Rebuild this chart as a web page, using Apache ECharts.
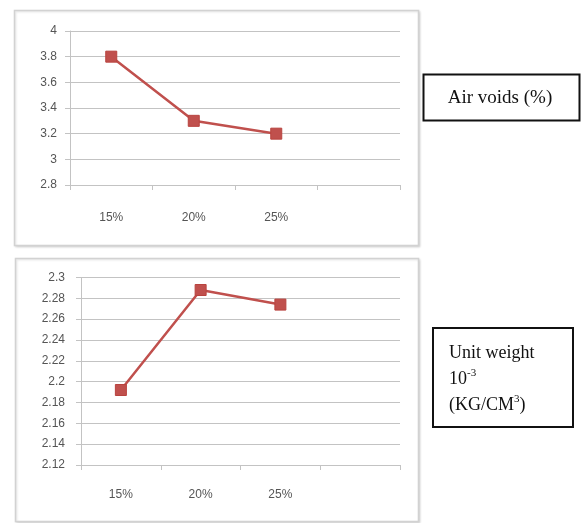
<!DOCTYPE html>
<html>
<head>
<meta charset="utf-8">
<script src="https://cdn.jsdelivr.net/npm/echarts@6/dist/echarts.min.js"></script>
<style>
  html, body { margin: 0; padding: 0; background: #fff; }
  #chart { width: 581px; height: 523px; }
</style>
</head>
<body>
<div id="chart"></div>
<script>
// Mix proportions shown on both panels (4th slot left empty)
const categories = ['15%', '20%', '25%', ''];

// Air voids (%) per mix
const airVoids = [3.8, 3.3, 3.2];
// Unit weight per mix
const unitWeight = [2.192, 2.288, 2.274];

// Value-axis ranges
const airAxis = { min: 2.8, max: 4, interval: 0.2 };
const unitAxis = { min: 2.12, max: 2.3, interval: 0.02 };

const lineColor = '#c0504d';
const gridColor = '#c3c3c3';
const labelColor = '#555555';
const labelFont = 'Liberation Sans';

function xAxisFor(gridIndex, margin) {
  return {
    type: 'category',
    gridIndex: gridIndex,
    data: categories,
    boundaryGap: true,
    axisLine: { show: true, lineStyle: { color: gridColor, width: 1 } },
    axisTick: { show: true, length: 5, inside: false, lineStyle: { color: gridColor } },
    axisLabel: { color: labelColor, fontSize: 12, fontFamily: labelFont, margin: margin },
    splitLine: { show: false }
  };
}

function yAxisFor(gridIndex, range, margin) {
  return {
    type: 'value',
    gridIndex: gridIndex,
    min: range.min,
    max: range.max,
    interval: range.interval,
    axisLine: { show: true, lineStyle: { color: gridColor, width: 1 } },
    axisTick: { show: true, length: 5, lineStyle: { color: gridColor } },
    axisLabel: {
      color: labelColor, fontSize: 12, fontFamily: labelFont, margin: margin,
      formatter: v => String(+v.toFixed(2))
    },
    splitLine: { show: true, lineStyle: { color: gridColor, width: 1 } }
  };
}

function seriesFor(idx, data) {
  return {
    type: 'line',
    xAxisIndex: idx,
    yAxisIndex: idx,
    data: data,
    symbol: 'rect',
    symbolSize: 11,
    lineStyle: { color: lineColor, width: 2.5 },
    itemStyle: { color: lineColor, borderColor: '#b8433f', borderWidth: 1 },
    emphasis: { disabled: true },
    animation: false
  };
}

const chart = echarts.init(document.getElementById('chart'), null, { renderer: 'canvas' });

chart.setOption({
  backgroundColor: '#ffffff',
  animation: false,
  grid: [
    { left: 70, right: 181, top: 31, bottom: 338, containLabel: false },
    { left: 81, right: 181, top: 277.5, bottom: 58, containLabel: false }
  ],
  xAxis: [xAxisFor(0, 27), xAxisFor(1, 24)],
  yAxis: [yAxisFor(0, airAxis, 13), yAxisFor(1, unitAxis, 16)],
  series: [seriesFor(0, airVoids), seriesFor(1, unitWeight)],
  graphic: [
    // chart area frames
    {
      type: 'rect', z: -10, silent: true,
      shape: { x: 14.5, y: 10.5, width: 404, height: 235 },
      style: { fill: '#fff', stroke: '#d2d2d2', lineWidth: 1.5,
               shadowColor: 'rgba(0,0,0,0.12)', shadowBlur: 2, shadowOffsetX: 1, shadowOffsetY: 1 }
    },
    {
      type: 'rect', z: -10, silent: true,
      shape: { x: 15.5, y: 258.5, width: 403, height: 263 },
      style: { fill: '#fff', stroke: '#d2d2d2', lineWidth: 1.5,
               shadowColor: 'rgba(0,0,0,0.12)', shadowBlur: 2, shadowOffsetX: 1, shadowOffsetY: 1 }
    },
    // caption box: air voids
    {
      type: 'rect', silent: true,
      shape: { x: 423.5, y: 74.5, width: 156, height: 46 },
      style: { fill: '#fff', stroke: '#111', lineWidth: 2 }
    },
    {
      type: 'text', silent: true,
      x: 500, y: 98,
      style: {
        text: 'Air voids (%)',
        fontFamily: 'Liberation Serif', fontSize: 19, fill: '#111',
        align: 'center', verticalAlign: 'middle'
      }
    },
    // caption box: unit weight
    {
      type: 'rect', silent: true,
      shape: { x: 433, y: 328, width: 140, height: 99 },
      style: { fill: '#fff', stroke: '#111', lineWidth: 2 }
    },
    {
      type: 'text', silent: true,
      x: 449, y: 340,
      style: {
        text: '{n|Unit weight}\n{n|10}{s|-3}\n{n|(KG/CM}{s|3}{n|)}',
        fontFamily: 'Liberation Serif', fill: '#111',
        align: 'left', verticalAlign: 'top',
        rich: {
          n: { fontFamily: 'Liberation Serif', fontSize: 18, lineHeight: 26, fill: '#111' },
          s: { fontFamily: 'Liberation Serif', fontSize: 11, lineHeight: 26, fill: '#111',
               verticalAlign: 'top', padding: [2, 0, 0, 0] }
        }
      }
    }
  ]
});
</script>
</body>
</html>
